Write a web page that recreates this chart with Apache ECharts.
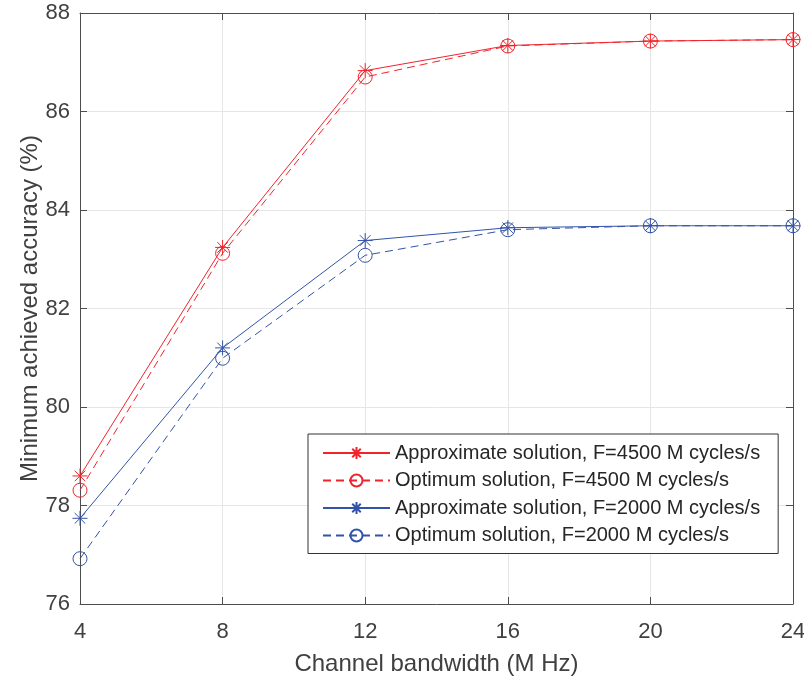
<!DOCTYPE html>
<html><head><meta charset="utf-8">
<script src="https://cdn.jsdelivr.net/npm/echarts@6/dist/echarts.min.js"></script>
<style>html,body{margin:0;padding:0;background:#fff}#c{width:804px;height:679px}</style>
</head><body><div id="c"></div>
<script>
const bandwidth = [4, 8, 12, 16, 20, 24];
const approx4500 = [78.60, 83.24, 86.83, 87.34, 87.43, 87.46];
const optim4500  = [78.31, 83.12, 86.70, 87.33, 87.43, 87.46];
const approx2000 = [77.74, 81.20, 83.38, 83.64, 83.68, 83.68];
const optim2000  = [76.92, 80.99, 83.08, 83.60, 83.68, 83.68];
const names = ['Approximate solution, F=4500 M cycles/s','Optimum solution, F=4500 M cycles/s','Approximate solution, F=2000 M cycles/s','Optimum solution, F=2000 M cycles/s'];
const xTicks = [4, 8, 12, 16, 20, 24];
const yTicks = [76, 78, 80, 82, 84, 86, 88];

const RED = '#f2232b', BLUE = '#3253a8';
const star = 'path://M0,-10L0,10M-10,0L10,0M-7.07,-7.07L7.07,7.07M-7.07,7.07L7.07,-7.07';
const circ = 'path://M10,0A10,10,0,1,1,-10,0A10,10,0,1,1,10,0Z';
function pairs(v){ return bandwidth.map((x,i)=>[x,v[i]]); }
function ser(name, data, color, dashed, sym){
  return {
    name, type:'line', data: pairs(data), symbol: sym, symbolSize: sym===circ?14:15,
    symbolKeepAspect:true, showAllSymbol:true, animation:false,
    lineStyle:{color, width:1, type: dashed?[8,5]:'solid'},
    itemStyle:{color: 'rgba(0,0,0,0)', borderColor: color, borderWidth:1},
    emphasis:{disabled:true}
  };
}
const chart = echarts.init(document.getElementById('c'), null, {renderer:'canvas'});
const txt = '#404040';
const F = 'Liberation Sans';
chart.setOption({
  backgroundColor:'#fff',
  animation:false,
  grid:{left:80, right:11, top:13, bottom:75, containLabel:false, outerBoundsMode:'none'},
  xAxis:[{
    type:'value', min:4, max:24, interval:4,
    name:'Channel bandwidth (M Hz)', nameLocation:'middle', nameGap:48, nameMoveOverlap:false,
    nameTextStyle:{fontFamily:F, fontSize:24, color:txt},
    axisLine:{show:true, lineStyle:{color:'#4d4d4d', width:1}},
    axisTick:{show:true, inside:true, length:7, lineStyle:{color:'#4d4d4d'}},
    axisLabel:{fontFamily:F, fontSize:22, color:txt, margin:17},
    splitLine:{show:true, lineStyle:{color:'#e6e6e6', width:1}}
  },{
    type:'value', min:4, max:24, interval:4, position:'top',
    axisLine:{show:true, onZero:false, lineStyle:{color:'#4d4d4d', width:1}},
    axisTick:{show:true, inside:true, length:7, lineStyle:{color:'#4d4d4d'}},
    axisLabel:{show:false}, splitLine:{show:false}
  }],
  yAxis:[{
    type:'value', min:76, max:88, interval:2,
    name:'Minimum achieved accuracy (%)', nameLocation:'middle', nameGap:38, nameMoveOverlap:false,
    nameTextStyle:{fontFamily:F, fontSize:24, color:txt},
    axisLine:{show:true, lineStyle:{color:'#4d4d4d', width:1}},
    axisTick:{show:true, inside:true, length:7, lineStyle:{color:'#4d4d4d'}},
    axisLabel:{fontFamily:F, fontSize:22, color:txt, margin:10},
    splitLine:{show:true, lineStyle:{color:'#e6e6e6', width:1}}
  },{
    type:'value', min:76, max:88, interval:2, position:'right',
    axisLine:{show:true, onZero:false, lineStyle:{color:'#4d4d4d', width:1}},
    axisTick:{show:true, inside:true, length:7, lineStyle:{color:'#4d4d4d'}},
    axisLabel:{show:false}, splitLine:{show:false}
  }],
  legend:{
    show:true, orient:'vertical', left:308, top:434,
    data:names,
    backgroundColor:'#fff', borderColor:'#333', borderWidth:1,
    padding:[9,18,8,14], itemGap:7.5, itemWidth:67, itemHeight:15,
    textStyle:{fontFamily:F, fontSize:20, color:'#262626'},
    selectedMode:false
  },
  series:[
    ser(names[0], approx4500, RED, false, star),
    ser(names[1], optim4500, RED, true, circ),
    ser(names[2], approx2000, BLUE, false, star),
    ser(names[3], optim2000, BLUE, true, circ)
  ]
});
</script></body></html>
